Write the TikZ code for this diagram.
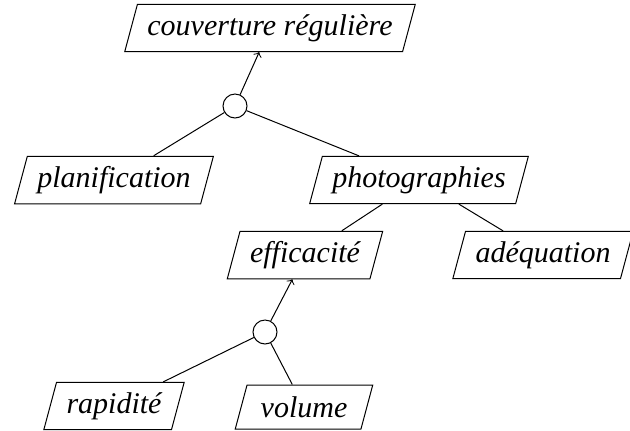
\documentclass[tikz,border=0pt]{standalone}
\usepackage{fontspec}
\setmainfont{Liberation Serif}
\usepackage{tikz}
\usetikzlibrary{shapes.geometric,positioning,arrows}

\begin{document}
\begin{tikzpicture}[node distance = 2cm, on grid]
    \fontsize{12pt}{14pt}\selectfont  % taille du texte
    \tikzstyle{goal}=[trapezium,trapezium left angle=75,trapezium right angle=105,draw,thin,
        minimum height=17.6pt,inner xsep=4pt,font=\itshape]  % but en parallelogramme
    \tikzstyle{decomp}=[circle,draw,thin,minimum size=9.6pt,inner sep=0pt]  % noeud ET
    \useasboundingbox (0,0) rectangle (252pt,-172pt);

    % les buts
    \node[goal](top) at (108pt,-11.2pt){couverture régulière};
    \node[decomp,below left=31.2pt and 14pt of top](et1){};
    \node[goal,below left=29.6pt and 48.4pt of et1](plan){planification};
    \node[goal,below right=29.6pt and 73.6pt of et1](photo){photographies};
    \node[goal,below left=30pt and 45.6pt of photo](effic){efficacité};
    \node[goal,below right=30pt and 49.6pt of photo](adeq){adéquation};
    \node[decomp,below left=30.8pt and 16pt of effic](et2){};
    \node[goal,below left=29.6pt and 60.4pt of et2](rapid){rapidité};
    \node[goal,below right=30pt and 15.6pt of et2](vol){volume};
    % les liens
    \draw[->](et1)--(top);
    \draw(et1)--(plan);
    \draw(et1)--(photo);
    \draw(photo)--(effic);
    \draw(photo)--(adeq);
    \draw[->](et2)--(effic);
    \draw(et2)--(rapid);
    \draw(et2)--(vol);
\end{tikzpicture}
\end{document}
